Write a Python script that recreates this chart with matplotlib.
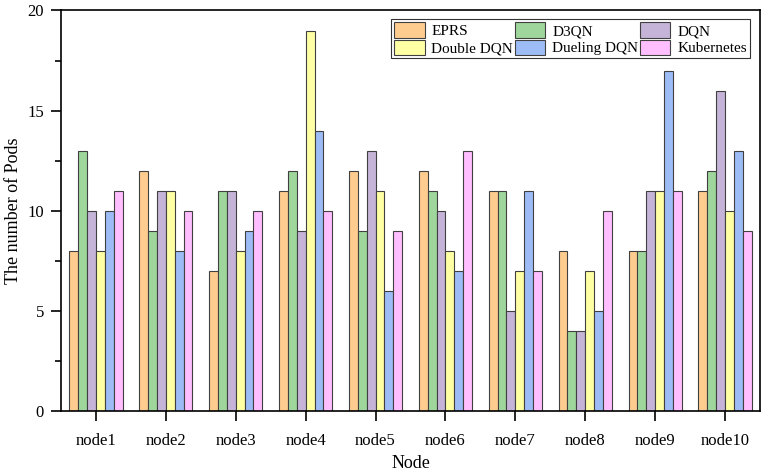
import numpy as np
import matplotlib.pyplot as plt
from matplotlib.ticker import MultipleLocator

plt.rcParams['font.family'] = ['Liberation Serif', 'DejaVu Serif']

nodes = ['node1', 'node2', 'node3', 'node4', 'node5',
         'node6', 'node7', 'node8', 'node9', 'node10']
series = ['EPRS', 'D3QN', 'DQN', 'Double DQN', 'Dueling DQN', 'Kubernetes']
eprs = [8, 12, 7, 11, 12, 12, 11, 8, 8, 11]
d3qn = [13, 9, 11, 12, 9, 11, 11, 4, 8, 12]
dqn = [10, 11, 11, 9, 13, 10, 5, 4, 11, 16]
double_dqn = [8, 11, 8, 19, 11, 8, 7, 7, 11, 10]
dueling_dqn = [10, 8, 9, 14, 6, 7, 11, 5, 17, 13]
kubernetes = [11, 10, 10, 10, 9, 13, 7, 10, 11, 9]
colors = ['#FFCC90', '#9ED69C', '#C5B4D8', '#FFFFA4', '#9DBCF6', '#FFBEFF']

values = [eprs, d3qn, dqn, double_dqn, dueling_dqn, kubernetes]

fig, ax = plt.subplots(figsize=(7.68, 4.76), dpi=100)
x = np.arange(len(nodes))
w = 0.128
bars = []
for i, (name, vals, c) in enumerate(zip(series, values, colors)):
    b = ax.bar(x + (i - 2.5) * w, vals, w, color=c, edgecolor='#404040',
               linewidth=0.8, label=name)
    bars.append(b)

ax.set_xlim(-0.5, 9.5)
ax.set_ylim(0, 20)
ax.set_yticks([0, 5, 10, 15, 20])
ax.yaxis.set_minor_locator(MultipleLocator(2.5))
ax.set_xticks(x)
ax.set_xticklabels(nodes)
ax.tick_params(axis='x', which='major', direction='out', length=7, width=1.2,
               labelsize=12, pad=9)
ax.tick_params(axis='y', which='major', direction='out', length=7, width=1.2,
               labelsize=12, pad=5)
ax.tick_params(axis='y', which='minor', direction='out', length=4, width=1.2)
for s in ax.spines.values():
    s.set_linewidth(1.2)
ax.set_xlabel('Node', fontsize=13, labelpad=4)
ax.set_ylabel('The number of Pods', fontsize=13, labelpad=4)

# column-major legend: EPRS/Double DQN, D3QN/Dueling DQN, DQN/Kubernetes
order = [0, 3, 1, 4, 2, 5]
leg = ax.legend([bars[i] for i in order], [series[i] for i in order],
                ncol=3, loc='upper right', bbox_to_anchor=(0.985, 0.978),
                fontsize=11, frameon=True, fancybox=False, edgecolor='black',
                borderpad=0.2, labelspacing=0.1, handlelength=2.0,
                handleheight=1.15, handletextpad=0.45, columnspacing=0.1,
                borderaxespad=0)
leg.get_frame().set_linewidth(0.8)

fig.subplots_adjust(left=0.079, right=0.99, top=0.978, bottom=0.136)
fig.savefig('out.png')
